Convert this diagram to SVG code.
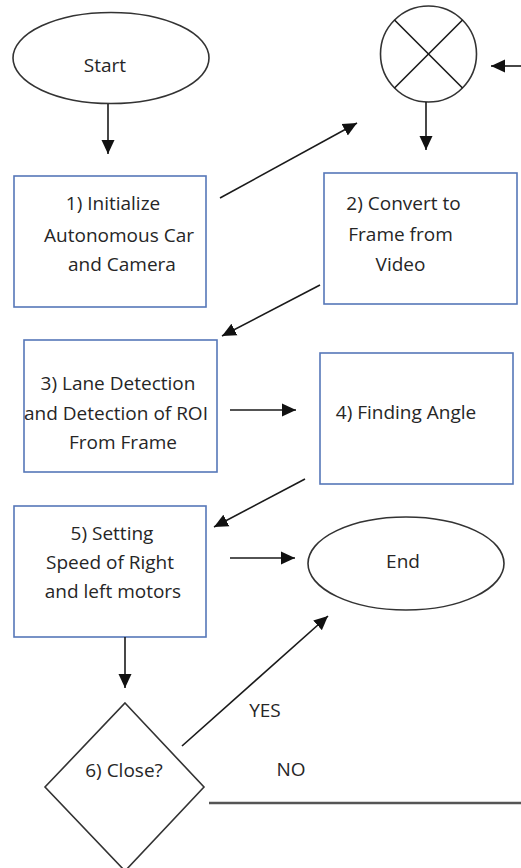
<svg xmlns="http://www.w3.org/2000/svg" width="521" height="868" viewBox="0 0 521 868">
<style>
.box{fill:#fff;stroke:#5677B8;stroke-width:1.6}
.term{fill:#fff;stroke:#333;stroke-width:1.6}
.t{font-family:"Open Sans","Liberation Sans",sans-serif;font-size:19px;fill:#262626;text-anchor:middle}
.c{stroke:#1a1a1a;stroke-width:1.6;fill:none}
</style>
<defs>
<marker id="ah" markerUnits="userSpaceOnUse" markerWidth="14" markerHeight="14" refX="14" refY="7" orient="auto" viewBox="0 0 14 14">
<path d="M0,0.5 L14,7 L0,13.5 z" fill="#111"/>
</marker>
<clipPath id="clip3"><rect x="24" y="340" width="193" height="132"/></clipPath>
</defs>
<rect width="521" height="868" fill="#fff"/>

<g id="start">
<ellipse class="term" cx="111" cy="58" rx="98" ry="45.5"/>
<text class="t" x="105" y="72">Start</text>
</g>

<g id="junction">
<circle class="term" cx="428.5" cy="54" r="48"/>
<line class="c" x1="394.5" y1="20" x2="462.5" y2="88"/>
<line class="c" x1="462.5" y1="20" x2="394.5" y2="88"/>
</g>

<g id="n1">
<rect class="box" x="14" y="176" width="192" height="131"/>
<text class="t" x="113" y="210">1) Initialize</text>
<text class="t" x="119" y="242">Autonomous Car</text>
<text class="t" x="122" y="271">and Camera</text>
</g>

<g id="n2">
<rect class="box" x="324" y="173" width="193" height="131"/>
<text class="t" x="403.5" y="210">2) Convert to</text>
<text class="t" x="400.5" y="241">Frame from</text>
<text class="t" x="400.5" y="271">Video</text>
</g>

<g id="n3">
<rect class="box" x="24" y="340" width="193" height="132"/>
<g clip-path="url(#clip3)">
<text class="t" x="118" y="390">3) Lane Detection</text>
<text class="t" x="116" y="420">and Detection of ROI</text>
<text class="t" x="123" y="449">From Frame</text>
</g>
</g>

<g id="n4">
<rect class="box" x="320" y="353" width="193" height="131"/>
<text class="t" x="406" y="419">4) Finding Angle</text>
</g>

<g id="n5">
<rect class="box" x="14" y="506" width="192" height="131"/>
<text class="t" x="112" y="540">5) Setting</text>
<text class="t" x="110" y="569">Speed of Right</text>
<text class="t" x="113" y="598">and left motors</text>
</g>

<g id="end">
<ellipse class="term" cx="406" cy="563.5" rx="98" ry="46.5"/>
<text class="t" x="403" y="568">End</text>
</g>

<g id="n6">
<polygon class="term" points="125,703 204,787 125,871 45,787"/>
<text class="t" x="124" y="777">6) Close?</text>
</g>

<g id="connectors">
<line class="c" x1="108" y1="104" x2="108" y2="154" marker-end="url(#ah)"/>
<line class="c" x1="220" y1="198" x2="357" y2="123" marker-end="url(#ah)"/>
<line class="c" x1="521" y1="66" x2="491" y2="66" marker-end="url(#ah)"/>
<line class="c" x1="426" y1="102" x2="426" y2="150" marker-end="url(#ah)"/>
<line class="c" x1="320" y1="285" x2="222" y2="336" marker-end="url(#ah)"/>
<line class="c" x1="230" y1="410" x2="296" y2="410" marker-end="url(#ah)"/>
<line class="c" x1="305" y1="479" x2="214" y2="527" marker-end="url(#ah)"/>
<line class="c" x1="230" y1="558" x2="295" y2="558" marker-end="url(#ah)"/>
<line class="c" x1="125" y1="637" x2="125" y2="688" marker-end="url(#ah)"/>
<line class="c" x1="182" y1="746" x2="328" y2="616" marker-end="url(#ah)"/>
<line x1="209" y1="803" x2="521" y2="803" stroke="#555" stroke-width="2.4"/>
<text class="t" x="265" y="717">YES</text>
<text class="t" x="291" y="776">NO</text>
</g>
</svg>
